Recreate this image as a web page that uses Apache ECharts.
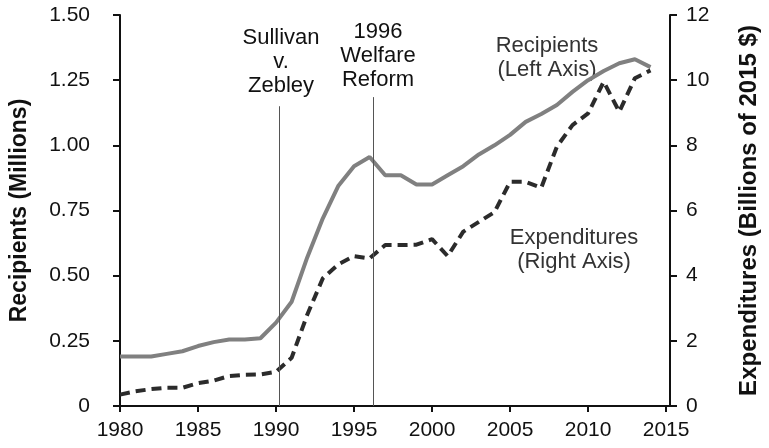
<!DOCTYPE html>
<html>
<head>
<meta charset="utf-8">
<script src="https://cdn.jsdelivr.net/npm/echarts@6/dist/echarts.min.js"></script>
<style>
  html, body { margin: 0; padding: 0; background: #fff; }
  #chart { width: 769px; height: 448px; }
</style>
</head>
<body>
<div id="chart"></div>
<script>
var years = [1980, 1981, 1982, 1983, 1984, 1985, 1986, 1987, 1988, 1989,
  1990, 1991, 1992, 1993, 1994, 1995, 1996, 1997, 1998, 1999,
  2000, 2001, 2002, 2003, 2004, 2005, 2006, 2007, 2008, 2009,
  2010, 2011, 2012, 2013, 2014];

// millions of recipients (left axis)
var recipients = [0.19, 0.19, 0.19, 0.20, 0.21, 0.23, 0.245, 0.255, 0.255, 0.26,
  0.32, 0.40, 0.57, 0.72, 0.845, 0.92, 0.955, 0.885, 0.885, 0.85,
  0.85, 0.885, 0.92, 0.965, 1.00, 1.04, 1.09, 1.12, 1.155, 1.205,
  1.25, 1.285, 1.315, 1.33, 1.30];

// billions of 2015 dollars (right axis)
var expenditures = [0.35, 0.45, 0.52, 0.56, 0.56, 0.70, 0.78, 0.92, 0.96, 0.97,
  1.05, 1.48, 2.8, 3.92, 4.35, 4.6, 4.53, 4.94, 4.94, 4.95,
  5.12, 4.6, 5.35, 5.65, 5.95, 6.88, 6.88, 6.7, 7.96, 8.62,
  8.98, 9.95, 9.03, 10.06, 10.3];

var xTicks = [1980, 1985, 1990, 1995, 2000, 2005, 2010, 2015];

// policy events: year of the vertical line and height (left axis) where it starts
var events = [
  { year: 1990.2, top: 1.15 },
  { year: 1996.2, top: 1.185 }
];

var font = '"Liberation Sans", Arial, Helvetica, sans-serif';
var ink = '#111';

function pairs(xs, ys) {
  return xs.map(function (x, i) { return [x, ys[i]]; });
}

function note(x, y, text, color) {
  return {
    type: 'text', x: x, y: y, silent: true,
    style: { text: text, fill: color, font: '22px ' + font, textAlign: 'center', textVerticalAlign: 'middle', lineHeight: 24 }
  };
}

var chart = echarts.init(document.getElementById('chart'), null, { renderer: 'canvas' });
chart.setOption({
  animation: false,
  backgroundColor: '#fff',
  textStyle: { fontFamily: font },
  grid: { left: 120, right: 88, top: 15, bottom: 42 },
  xAxis: {
    type: 'value',
    min: 1980,
    max: 2015.25,
    interval: 5,
    splitLine: { show: false },
    axisLine: { lineStyle: { color: ink, width: 2 } },
    axisTick: { length: 6, lineStyle: { color: ink, width: 2 }, customValues: xTicks },
    axisLabel: { color: ink, fontSize: 21, margin: 14, customValues: xTicks,
      formatter: function (v) { return String(v); } }
  },
  yAxis: [{
    type: 'value',
    min: 0, max: 1.5, interval: 0.25,
    name: 'Recipients (Millions)',
    nameLocation: 'middle',
    nameRotate: 90,
    nameGap: 89,
    nameTextStyle: { color: ink, fontSize: 23, fontWeight: 'bold' },
    splitLine: { show: false },
    axisLine: { show: true, lineStyle: { color: ink, width: 2 } },
    axisTick: { show: true, length: 7, lineStyle: { color: ink, width: 2 } },
    axisLabel: { color: ink, fontSize: 21, margin: 30,
      formatter: function (v) { return v === 0 ? '0' : v.toFixed(2); } }
  }, {
    type: 'value',
    position: 'right',
    min: 0, max: 12, interval: 2,
    name: 'Expenditures (Billions of 2015 $)',
    nameLocation: 'middle',
    nameRotate: 90,
    nameGap: 67,
    nameTextStyle: { color: ink, fontSize: 24, fontWeight: 'bold' },
    splitLine: { show: false },
    axisLine: { show: true, lineStyle: { color: ink, width: 2 } },
    axisTick: { show: true, length: 7, lineStyle: { color: ink, width: 2 } },
    axisLabel: { color: ink, fontSize: 21, margin: 16 }
  }],
  series: [{
    name: 'Recipients',
    type: 'line',
    yAxisIndex: 0,
    data: pairs(years, recipients),
    showSymbol: false,
    lineStyle: { color: '#808080', width: 4 },
    markLine: {
      silent: true,
      symbol: 'none',
      label: { show: false },
      lineStyle: { color: '#555', width: 1, type: 'solid' },
      data: events.map(function (e) {
        return [{ coord: [e.year, e.top] }, { coord: [e.year, 0] }];
      })
    },
    z: 2
  }, {
    name: 'Expenditures',
    type: 'line',
    yAxisIndex: 1,
    data: pairs(years, expenditures),
    showSymbol: false,
    lineStyle: { color: '#2b2b2b', width: 4, type: [10, 6] },
    z: 3
  }],
  graphic: [
    note(281, 62, 'Sullivan\nv.\nZebley', ink),
    note(378, 56, '1996\nWelfare\nReform', ink),
    note(547, 58, 'Recipients\n(Left Axis)', '#333'),
    note(574, 250, 'Expenditures\n(Right Axis)', '#333')
  ]
});
window.addEventListener('resize', function () { chart.resize(); });
</script>
</body>
</html>
